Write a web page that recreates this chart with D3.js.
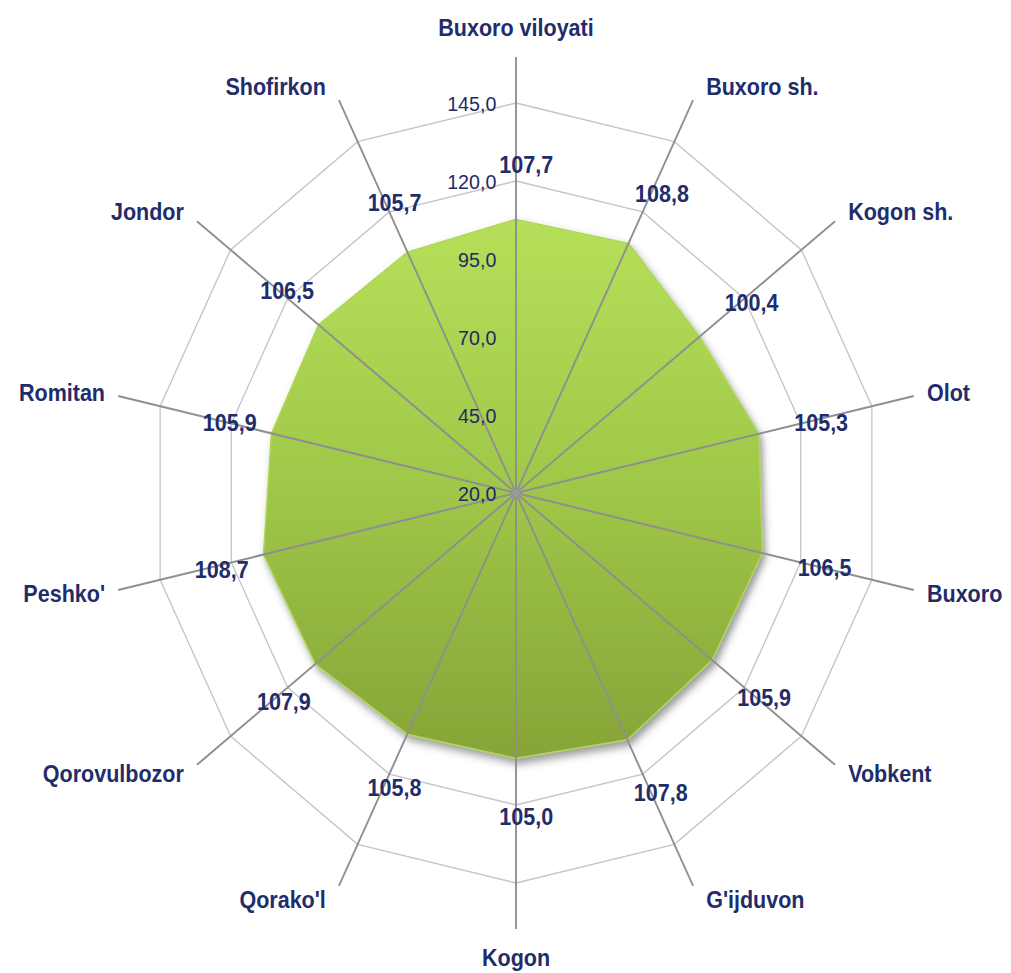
<!DOCTYPE html>
<html>
<head>
<meta charset="utf-8">
<script src="https://cdn.jsdelivr.net/npm/d3@7"></script>
<style>
  body { margin: 0; background: #fff; }
  svg { display: block; font-family: "Liberation Sans", Arial, sans-serif; }
</style>
</head>
<body>
<div id="chart-area"></div>
<script>
const categories = ["Buxoro viloyati", "Buxoro sh.", "Kogon sh.", "Olot", "Buxoro", "Vobkent", "G'ijduvon",
                    "Kogon", "Qorako'l", "Qorovulbozor", "Peshko'", "Romitan", "Jondor", "Shofirkon"];
const values = [107.7, 108.8, 100.4, 105.3, 106.5, 105.9, 107.8, 105.0, 105.8, 107.9, 108.7, 105.9, 106.5, 105.7];
const ticks = [20, 45, 70, 95, 120, 145];

const drawGraph = () => {
  const width = 1011;
  const height = 973;
  const cx = 516;
  const cy = 493;
  const squeeze = 0.936; // picture is a bit narrower than tall
  const axisLen = 436;

  const fmt = v => d3.format(".1f")(v).replace(".", ",");

  const svg = d3.select("#chart-area")
                .append("svg")
                .attr("width", width)
                .attr("height", height);

  const defs = svg.append("defs");
  const grad = defs.append("linearGradient")
                   .attr("id", "green")
                   .attr("x1", 0).attr("y1", 0)
                   .attr("x2", 0).attr("y2", 1);
  grad.append("stop").attr("offset", "0%").attr("stop-color", "#b6df5a");
  grad.append("stop").attr("offset", "45%").attr("stop-color", "#a2ca4a");
  grad.append("stop").attr("offset", "100%").attr("stop-color", "#86a437");

  const shadow = defs.append("filter")
                     .attr("id", "shadow")
                     .attr("x", "-10%").attr("y", "-10%")
                     .attr("width", "120%").attr("height", "120%");
  shadow.append("feDropShadow")
        .attr("dx", 3).attr("dy", 5)
        .attr("stdDeviation", 4)
        .attr("flood-color", "#444")
        .attr("flood-opacity", 0.55);

  const g = svg.append("g")
               .attr("transform", `translate(${cx},${cy}) scale(${squeeze},1)`);

  const rScale = d3.scaleLinear()
                   .domain([ticks[0], ticks[ticks.length - 1]])
                   .range([0, 390]);

  const angle = d3.scaleLinear()
                  .domain([0, categories.length])
                  .range([0, 2 * Math.PI]);

  const px = (i, r) => r * Math.sin(angle(i));
  const py = (i, r) => -r * Math.cos(angle(i));

  // grid rings
  const ringLine = d3.line().curve(d3.curveLinearClosed);
  g.append("g")
   .selectAll("path")
   .data(ticks.slice(1))
   .enter()
   .append("path")
   .attr("d", t => ringLine(categories.map((c, i) => [px(i, rScale(t)), py(i, rScale(t))])))
   .attr("fill", "none")
   .attr("stroke", "#c4c4c4")
   .attr("stroke-width", 1.4);

  // data area
  g.append("path")
   .attr("d", ringLine(values.map((v, i) => [px(i, rScale(v)), py(i, rScale(v))])))
   .attr("fill", "url(#green)")
   .attr("stroke", "#b0d657")
   .attr("stroke-width", 1.5)
   .attr("filter", "url(#shadow)");

  // axes
  g.append("g")
   .selectAll("line")
   .data(categories)
   .enter()
   .append("line")
   .attr("x1", 0).attr("y1", 0)
   .attr("x2", (d, i) => px(i, axisLen))
   .attr("y2", (d, i) => py(i, axisLen))
   .attr("stroke", "#8f8f8f")
   .attr("stroke-width", 2);

  g.append("circle")
   .attr("r", 4)
   .attr("fill", "#9a9a9a");

  // tick labels
  g.append("g")
   .selectAll("text")
   .data(ticks)
   .enter()
   .append("text")
   .attr("x", -21)
   .attr("y", t => -rScale(t))
   .attr("dy", "0.36em")
   .attr("text-anchor", "end")
   .attr("font-size", 21)
   .attr("fill", "#1f2a66")
   .text(fmt);

  // value labels
  const labelOffset = 57;
  g.append("g")
   .selectAll("text")
   .data(values)
   .enter()
   .append("text")
   .attr("x", (v, i) => px(i, rScale(v) + labelOffset) + 11)
   .attr("y", (v, i) => py(i, rScale(v) + labelOffset) + 2)
   .attr("dy", "0.36em")
   .attr("text-anchor", "middle")
   .attr("font-size", 23)
   .attr("font-weight", "bold")
   .attr("fill", "#1f2d6b")
   .text(fmt);

  // category labels
  g.append("g")
   .selectAll("text")
   .data(categories)
   .enter()
   .append("text")
   .attr("text-anchor", (d, i) => {
      const s = Math.sin(angle(i));
      if (Math.abs(s) < 0.01) {
        return "middle";
      } else if (s > 0) {
        return "start";
      } else {
        return "end";
      }
    })
   .attr("x", (d, i) => {
      const s = Math.sin(angle(i));
      if (Math.abs(s) < 0.01) return 0;
      return px(i, axisLen) + (s > 0 ? 14 : -14);
    })
   .attr("y", (d, i) => {
      const s = Math.sin(angle(i));
      const c = Math.cos(angle(i));
      if (Math.abs(s) < 0.01) {
        return py(i, axisLen) + (c > 0 ? -29 : 29);
      }
      return py(i, axisLen) - c * 15;
    })
   .attr("dy", "0.36em")
   .attr("font-size", 23)
   .attr("font-weight", "bold")
   .attr("fill", "#1f2d6b")
   .text(d => d);
};

drawGraph();
</script>
</body>
</html>
